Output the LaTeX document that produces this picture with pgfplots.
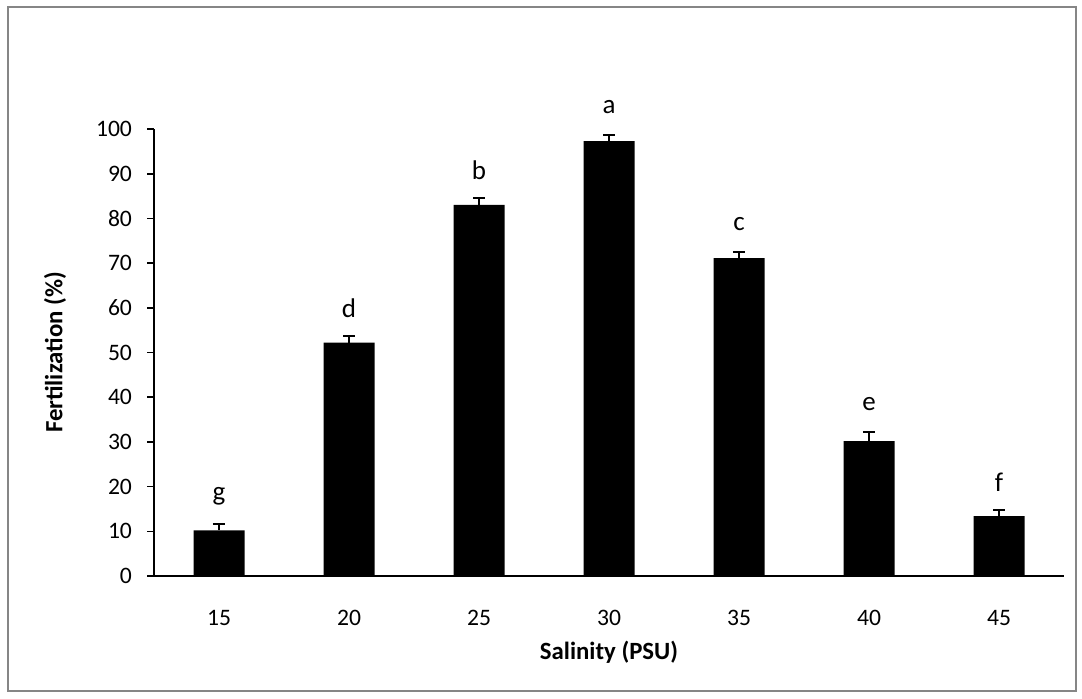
\documentclass[border=0pt]{standalone}
\usepackage{pgfplots}
\pgfplotsset{compat=1.18}
\usepackage{pgfplotstable}
\usepackage{fontspec}
\setmainfont{Carlito}
\pgfplotstableread{
x y err top lab
0 10.2 1.4 11.6 g
1 52.2 1.4 53.6 d
2 83.0 1.5 84.5 b
3 97.3 1.4 98.7 a
4 71.1 1.3 72.4 c
5 30.2 2.1 32.3 e
6 13.4 1.4 14.8 f
}\data
\begin{document}
\begin{tikzpicture}
\path[use as bounding box] (0,0) rectangle (541pt,349pt);
\fill[white] (0,0) rectangle (541pt,349pt);
\draw[color={rgb,255:red,134;green,134;blue,134}, line width=1.2pt] (4pt,3.5pt) rectangle (538pt,345.5pt);
\begin{axis}[
  at={(77pt,61pt)}, anchor=south west,
  scale only axis, width=455pt, height=223.5pt,
  xmin=-0.5, xmax=6.5, ymin=0, ymax=100,
  clip=false,
  axis x line*=bottom, axis y line*=left,
  axis line style={-, line width=0.9pt, black},
  font=\fontsize{11.8}{14}\selectfont,
  /pgf/number format/assume math mode=true,
  ytick={0,10,...,100},
  tick align=outside,
  major tick length=3.5pt,
  tick style={line width=0.8pt, black},
  xtick={0,...,6},
  xticklabels={15,20,25,30,35,40,45},
  xtick style={draw=none},
  extra x ticks={-0.5,0.5,1.5,2.5,3.5,4.5,5.5,6.5},
  extra x tick labels={},
  extra x tick style={tick style={draw=black, line width=0.8pt}, major tick length=3.5pt},
  xticklabel style={yshift=-10pt},
  yticklabel style={xshift=-4pt},
  xlabel={\textbf{Salinity (PSU)}},
  ylabel={\textbf{Fertilization (\%)}},
  every axis x label/.style={at={([yshift=-38pt]rel axis cs:0.5,0)}, anchor=center, font=\fontsize{12.4}{14}\selectfont},
  every axis y label/.style={at={([xshift=-49.5pt]rel axis cs:0,0.5)}, rotate=90, anchor=center, font=\fontsize{12.4}{14}\selectfont},
]
\addplot[ybar, bar width=25.5pt, fill=black, draw=none,
  error bars/.cd, y dir=plus, y explicit,
  error bar style={line width=1pt, black},
  error mark options={rotate=90, mark size=3pt, line width=1pt, black}]
  table[x=x, y=y, y error=err]{\data};
\addplot[draw=none, mark=none, nodes near coords, point meta=explicit symbolic,
  nodes near coords style={anchor=center, yshift=14pt, font=\fontsize{13.5}{15}\selectfont}]
  table[x=x, y=top, meta=lab]{\data};
\end{axis}
\end{tikzpicture}
\end{document}
